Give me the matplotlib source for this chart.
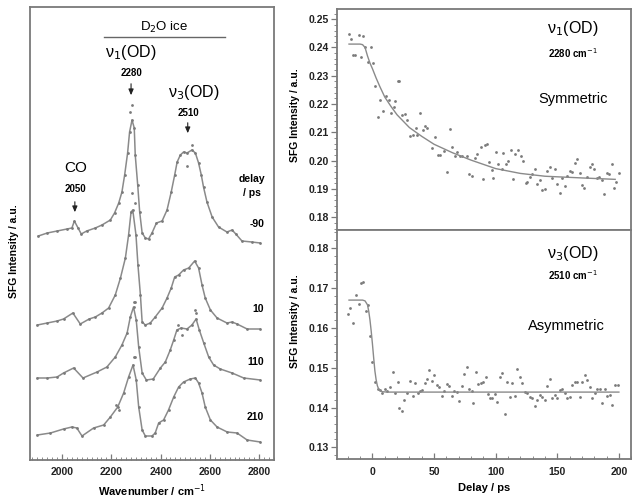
import numpy as np
import matplotlib
matplotlib.use("Agg")
import matplotlib.pyplot as plt
from matplotlib.ticker import MultipleLocator, NullLocator

plt.rcParams["font.family"] = ["Liberation Sans", "DejaVu Sans"]

# ---- left panel: SFG spectra (intensity in a.u., already offset) ----
wn_m90 = [1904, 1940, 1980, 2020, 2040, 2050, 2065, 2078, 2100, 2135, 2162, 2196, 2213, 2230,
          2243, 2254, 2266, 2274, 2284, 2293, 2297, 2307, 2315, 2325, 2338, 2351, 2365, 2383,
          2406, 2426, 2443, 2457, 2467, 2480, 2493, 2507, 2527, 2541, 2554, 2565, 2574, 2588,
          2609, 2635, 2669, 2690, 2705, 2730, 2770, 2804]
int_m90 = [224, 227, 229, 231, 232, 239, 232, 226, 229, 232, 235, 240, 247, 257,
           268, 285, 307, 328, 340, 332, 305, 275, 248, 227, 222, 221, 227, 237,
           239, 250, 268, 285, 298, 305, 308, 307, 310, 307, 297, 285, 273, 258,
           243, 233, 228, 230, 226, 219, 218, 217]

wn_10 = [1900, 1940, 1980, 2006, 2044, 2074, 2110, 2135, 2162, 2189, 2216, 2237, 2257, 2270,
         2280, 2287, 2300, 2308, 2318, 2325, 2338, 2358, 2378, 2406, 2426, 2443, 2457, 2473,
         2493, 2514, 2538, 2554, 2568, 2581, 2602, 2629, 2669, 2690, 2710, 2751, 2804]
int_10 = [135, 137, 139, 141, 147, 136, 141, 143, 147, 152, 165, 182, 202, 225,
          248, 250, 225, 195, 165, 138, 135, 137, 143, 152, 162, 172, 183, 185,
          190, 192, 199, 192, 175, 162, 150, 142, 137, 138, 136, 131, 131]

wn_110 = [1900, 1940, 1980, 2006, 2047, 2085, 2142, 2182, 2216, 2243, 2264, 2277, 2290, 2301,
          2311, 2325, 2342, 2370, 2399, 2419, 2439, 2453, 2466, 2483, 2507, 2527, 2544, 2557,
          2575, 2595, 2615, 2642, 2690, 2737, 2804]
int_110 = [82, 82, 83, 87, 92, 82, 88, 93, 103, 115, 127, 143, 153, 140,
           113, 87, 80, 81, 92, 98, 110, 120, 130, 132, 131, 135, 141, 130,
           117, 103, 95, 91, 87, 82, 80]

wn_210 = [1900, 1953, 2006, 2040, 2060, 2081, 2128, 2169, 2196, 2226, 2250, 2270, 2288, 2301,
          2311, 2325, 2338, 2365, 2378, 2392, 2412, 2432, 2453, 2473, 2493, 2520, 2541, 2554,
          2568, 2581, 2602, 2629, 2670, 2710, 2751, 2804]
int_210 = [25, 27, 31, 33, 32, 24, 32, 35, 43, 53, 67, 83, 95, 80,
           53, 30, 24, 24, 27, 37, 40, 50, 63, 73, 78, 81, 82, 77,
           67, 53, 40, 33, 28, 27, 20, 18]

# stray points off the connecting line
extra_wn = [2277, 2284, 2507, 2527, 2284, 2297, 2292, 2298, 2470, 2485, 2538, 2545, 2290, 2296, 2220, 2232]
extra_int = [348, 355, 294, 315, 267, 257, 158, 158, 135, 125, 150, 147, 103, 103, 55, 50]

delay_labels = ["-90", "10", "110", "210"]
delay_label_y = [236, 151, 98, 43]

# ---- right top: nu1(OD) 2280 cm-1 delay scan ----
t_sym = [-19.1, -17.2, -15.4, -13.8, -11.3, -9.4, -7.3, -5.7, -3.2, -1.1, 0.3, 2.4, 4.9, 6.5,
         8.7, 11.1, 13.3, 15.1, 17.3, 18.6, 20.4, 21.8, 24.0, 26.7, 28.3, 30.5, 32.7, 35.4,
         36.4, 38.6, 40.8, 42.4, 44.0, 48.3, 50.5, 53.0, 54.6, 57.8, 60.5, 62.7, 64.5, 67.0,
         68.6, 71.0, 72.6, 76.4, 78.5, 80.5, 82.9, 84.5, 88.3, 89.9, 91.3, 92.6, 94.5, 96.7,
         98.0, 100.2, 102.0, 104.8, 106.1, 108.2, 110.1, 112.1, 114.2, 116.1, 118.2, 120.2,
         122.3, 124.4, 125.8, 128.2, 129.9, 132.0, 133.9, 135.8, 138.0, 139.8, 142.0, 143.9,
         146.1, 147.9, 149.8, 152.0, 153.8, 156.0, 157.9, 160.1, 162.2, 164.1, 166.0, 168.1,
         170.0, 172.0, 173.8, 176.3, 178.1, 180.1, 182.2, 183.8, 186.0, 187.9, 190.0, 191.9,
         194.1, 195.9, 197.9, 199.8]
i_sym = [0.2448, 0.2429, 0.2375, 0.2375, 0.2443, 0.2367, 0.2441, 0.2403, 0.2350, 0.2401, 0.2345,
         0.2264, 0.2156, 0.2215, 0.2177, 0.2227, 0.2215, 0.2168, 0.2188, 0.2210, 0.2283, 0.2283,
         0.2162, 0.2164, 0.2144, 0.2088, 0.2091, 0.2115, 0.2091, 0.2170, 0.2109, 0.2123, 0.2115,
         0.2044, 0.2083, 0.2020, 0.2020, 0.2035, 0.1961, 0.2111, 0.2050, 0.2017, 0.2029, 0.2015,
         0.2015, 0.2017, 0.1953, 0.1946, 0.2009, 0.2024, 0.2048, 0.1935, 0.2056, 0.2058, 0.1995,
         0.1966, 0.1938, 0.2029, 0.1988, 0.1970, 0.2027, 0.1989, 0.1999, 0.2036, 0.1935, 0.2024,
         0.2036, 0.2015, 0.1999, 0.1920, 0.1923, 0.1944, 0.1953, 0.1972, 0.1918, 0.1930, 0.1897,
         0.1901, 0.1964, 0.1976, 0.1938, 0.1970, 0.1917, 0.1884, 0.1938, 0.1911, 0.1946, 0.1964,
         0.1961, 0.1991, 0.2006, 0.1958, 0.1914, 0.1905, 0.1944, 0.1979, 0.1988, 0.1970, 0.1938,
         0.1944, 0.1932, 0.1883, 0.1958, 0.1953, 0.1988, 0.1903, 0.1924, 0.1956]
fit_sym_t = [-19, -10, -8, -6, -4, -2, 0, 3, 6, 10, 15, 20, 30, 40, 50, 65, 80, 100, 120, 140, 170, 197]
fit_sym_i = [0.2412, 0.2412, 0.2410, 0.2400, 0.2370, 0.2345, 0.2325, 0.2292, 0.2262, 0.2225,
             0.2192, 0.2162, 0.2117, 0.2086, 0.2058, 0.2028, 0.2002, 0.1972, 0.1955, 0.1945,
             0.1939, 0.1934]

# ---- right bottom: nu3(OD) 2510 cm-1 delay scan ----
t_asym = [-19.9, -18.1, -15.9, -13.5, -11.3, -9.4, -7.3, -5.1, -3.2, -1.9, 0.0, 2.2, 4.4, 6.2,
          8.1, 10.3, 12.1, 14.3, 16.5, 18.4, 20.6, 21.9, 23.8, 25.9, 28.3, 30.5, 32.7, 34.6,
          36.8, 38.6, 40.5, 42.7, 44.5, 46.2, 48.1, 50.0, 52.1, 54.0, 56.2, 58.3, 60.2, 62.3,
          64.3, 66.1, 68.3, 70.2, 72.4, 74.2, 76.4, 78.5, 80.5, 81.8, 84.0, 85.8, 87.8, 89.9,
          91.8, 93.4, 95.3, 97.2, 99.4, 101.2, 103.4, 105.3, 107.4, 109.3, 111.5, 113.4, 115.5,
          117.4, 119.6, 121.5, 123.6, 125.5, 127.7, 129.5, 131.7, 133.6, 135.8, 137.7, 139.8,
          141.7, 143.9, 145.7, 147.9, 149.8, 152.0, 153.8, 156.0, 157.9, 160.1, 161.9, 164.1,
          166.0, 168.2, 170.0, 172.2, 174.1, 176.3, 178.4, 180.3, 182.2, 184.3, 186.5, 188.4,
          190.6, 192.4, 194.6, 196.5, 199.2]
i_asym = [0.1634, 0.1649, 0.1612, 0.1683, 0.1660, 0.1714, 0.1716, 0.1642, 0.1658, 0.1580, 0.1515,
          0.1465, 0.1446, 0.1444, 0.1436, 0.1448, 0.1442, 0.1452, 0.1490, 0.1437, 0.1465, 0.1398,
          0.1391, 0.1419, 0.1436, 0.1467, 0.1429, 0.1462, 0.1436, 0.1442, 0.1444, 0.1461, 0.1473,
          0.1494, 0.1467, 0.1482, 0.1457, 0.1452, 0.1429, 0.1442, 0.1459, 0.1454, 0.1429, 0.1442,
          0.1440, 0.1417, 0.1454, 0.1484, 0.1503, 0.1446, 0.1441, 0.1412, 0.1490, 0.1459, 0.1462,
          0.1465, 0.1477, 0.1433, 0.1423, 0.1423, 0.1433, 0.1415, 0.1477, 0.1487, 0.1385, 0.1465,
          0.1426, 0.1462, 0.1430, 0.1496, 0.1477, 0.1462, 0.1440, 0.1437, 0.1427, 0.1423, 0.1404,
          0.1419, 0.1431, 0.1427, 0.1419, 0.1454, 0.1471, 0.1423, 0.1431, 0.1423, 0.1444, 0.1448,
          0.1437, 0.1423, 0.1427, 0.1457, 0.1465, 0.1465, 0.1426, 0.1465, 0.1482, 0.1469, 0.1452,
          0.1423, 0.1437, 0.1448, 0.1446, 0.1411, 0.1448, 0.1429, 0.1431, 0.1406, 0.1457, 0.1457]
fit_asym_t = [-19, -8, -6, -4, -3, -2, -1, 0, 1, 2, 3, 4, 5, 6, 8, 12, 50, 100, 150, 200]
fit_asym_i = [0.1670, 0.1670, 0.1668, 0.1658, 0.1642, 0.1620, 0.1592, 0.1560, 0.1525, 0.1492,
              0.1470, 0.1455, 0.1447, 0.1443, 0.1440, 0.1439, 0.1439, 0.1439, 0.1439, 0.1439]

GREY = "#7a7a7a"
LINE = "#8a8a8a"
SPINE = "#7a7a7a"


def style_axes(ax):
    for s in ax.spines.values():
        s.set_color(SPINE)
        s.set_linewidth(1.3)
    ax.tick_params(colors=SPINE, labelcolor="#222222", width=0.9)


fig = plt.figure(figsize=(6.32, 4.98), dpi=100)

# left panel
ax = fig.add_axes([30 / 632, 38 / 498, 244 / 632, 453 / 498])
style_axes(ax)
for wn, iy in [(wn_m90, int_m90), (wn_10, int_10), (wn_110, int_110), (wn_210, int_210)]:
    ax.plot(wn, iy, color=LINE, lw=1.1, marker="o", ms=2.0, mfc=GREY, mec=GREY, mew=0)
ax.plot(extra_wn, extra_int, ls="none", marker="o", ms=2.0, mfc=GREY, mec=GREY, mew=0)
ax.set_xlim(1870, 2860)
ax.set_ylim(0, 453)
ax.yaxis.set_major_locator(NullLocator())
ax.xaxis.set_major_locator(MultipleLocator(200))
ax.xaxis.set_minor_locator(MultipleLocator(20))
ax.tick_params(axis="x", which="major", direction="in", length=4, pad=5, labelsize=7.5)
ax.tick_params(axis="x", which="minor", direction="in", length=2, color=SPINE)
for lab in ax.get_xticklabels():
    lab.set_fontweight("bold")
ax.set_xlabel("Wavenumber / cm$^{-1}$", fontsize=8, fontweight="bold")
ax.xaxis.set_label_coords(0.5, -0.05)
ax.set_ylabel("SFG Intensity / a.u.", fontsize=7.5, fontweight="bold")
ax.yaxis.set_label_coords(-0.045, 0.46)

ax.text(2415, 433, "D$_2$O ice", ha="center", va="center", fontsize=9.5)
ax.plot([2172, 2663], [423, 423], color="#666666", lw=1.0)
ax.text(2277, 407, "ν$_1$(OD)", ha="center", va="center", fontsize=11.5)
ax.text(2280, 387, "2280", ha="center", va="center", fontsize=7, fontweight="bold")
ax.text(2533, 367, "ν$_3$(OD)", ha="center", va="center", fontsize=11.5)
ax.text(2512, 347, "2510", ha="center", va="center", fontsize=7, fontweight="bold")
ax.text(2054, 292, "CO", ha="center", va="center", fontsize=11)
ax.text(2054, 271, "2050", ha="center", va="center", fontsize=7, fontweight="bold")
arrow = dict(arrowstyle="-|>,head_length=0.35,head_width=0.15", color="#222222", lw=0.8)
for x, y0, y1 in [(2280, 379, 362), (2510, 340, 324), (2052, 261, 245)]:
    ax.annotate("", xy=(x, y1), xytext=(x, y0), arrowprops=arrow)
ax.text(2772, 281, "delay", ha="center", va="center", fontsize=7.5, fontweight="bold")
ax.text(2772, 267, "/ ps", ha="center", va="center", fontsize=7.5, fontweight="bold")
for lab, y in zip(delay_labels, delay_label_y):
    ax.text(2820, y, lab, ha="right", va="center", fontsize=7.5, fontweight="bold")

# right top panel
ax1 = fig.add_axes([336.7 / 632, 268 / 498, 294.5 / 632, 221 / 498])
style_axes(ax1)
ax1.plot(t_sym, i_sym, ls="none", marker="o", ms=2.0, mfc=GREY, mec=GREY, mew=0)
ax1.plot(fit_sym_t, fit_sym_i, color=LINE, lw=1.0)
ax1.set_xlim(-29, 210)
ax1.set_ylim(0.1755, 0.2536)
ax1.yaxis.set_major_locator(MultipleLocator(0.01))
ax1.yaxis.set_minor_locator(MultipleLocator(0.002))
ax1.xaxis.set_major_locator(NullLocator())
ax1.tick_params(axis="y", which="major", direction="out", length=4, pad=1.5, labelsize=7.5)
ax1.tick_params(axis="y", which="minor", direction="out", length=2, color=SPINE)
ax1.yaxis.set_major_formatter(plt.FormatStrFormatter("%.2f"))
for lab in ax1.get_yticklabels():
    lab.set_fontweight("bold")
ax1.set_ylabel("SFG Intensity / a.u.", fontsize=7.5, fontweight="bold")
ax1.yaxis.set_label_coords(-0.126, 0.52)
ax1.text(162.5, 0.2466, "ν$_1$(OD)", ha="center", va="center", fontsize=11.5)
ax1.text(162.5, 0.2381, "2280 cm$^{-1}$", ha="center", va="center", fontsize=7, fontweight="bold")
ax1.text(162.5, 0.2218, "Symmetric", ha="center", va="center", fontsize=10.5)

# right bottom panel
ax2 = fig.add_axes([336.7 / 632, 39 / 498, 294.5 / 632, 229 / 498])
style_axes(ax2)
ax2.plot(t_asym, i_asym, ls="none", marker="o", ms=2.0, mfc=GREY, mec=GREY, mew=0)
ax2.plot(fit_asym_t, fit_asym_i, color=LINE, lw=1.0)
ax2.set_xlim(-29, 210)
ax2.set_ylim(0.1271, 0.1846)
ax2.yaxis.set_major_locator(MultipleLocator(0.01))
ax2.yaxis.set_minor_locator(MultipleLocator(0.002))
ax2.xaxis.set_major_locator(MultipleLocator(50))
ax2.xaxis.set_minor_locator(MultipleLocator(10))
ax2.tick_params(axis="y", which="major", direction="out", length=4, pad=1.5, labelsize=7.5)
ax2.tick_params(axis="y", which="minor", direction="out", length=2, color=SPINE)
ax2.tick_params(axis="x", which="major", direction="in", length=4, pad=6, labelsize=7.5)
ax2.tick_params(axis="x", which="minor", direction="in", length=2, color=SPINE)
ax2.yaxis.set_major_formatter(plt.FormatStrFormatter("%.2f"))
for lab in ax2.get_yticklabels() + ax2.get_xticklabels():
    lab.set_fontweight("bold")
ax2.set_ylabel("SFG Intensity / a.u.", fontsize=7.5, fontweight="bold")
ax2.yaxis.set_label_coords(-0.126, 0.60)
ax2.set_xlabel("Delay / ps", fontsize=8, fontweight="bold")
ax2.xaxis.set_label_coords(0.5, -0.105)
ax2.text(162.5, 0.1788, "ν$_3$(OD)", ha="center", va="center", fontsize=11.5)
ax2.text(162.5, 0.1733, "2510 cm$^{-1}$", ha="center", va="center", fontsize=7, fontweight="bold")
ax2.text(157.6, 0.1605, "Asymmetric", ha="center", va="center", fontsize=10.5)

fig.savefig("out.png", dpi=100)
